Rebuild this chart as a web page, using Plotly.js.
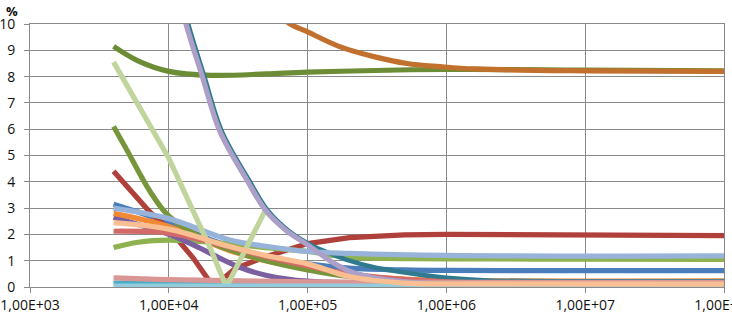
<!DOCTYPE html>
<html>
<head>
<meta charset="utf-8">
<script src="https://cdn.plot.ly/plotly-3.0.1.min.js"></script>
<style>html,body{margin:0;padding:0;background:#fff;}#chart{width:732px;height:316px;}</style>
</head>
<body>
<div id="chart"></div>
<script>
// x tick values and labels
const tickVals = [1e3, 1e4, 1e5, 1e6, 1e7, 1e8];
const tickText = ["1,00E+03", "1,00E+04", "1,00E+05", "1,00E+06", "1,00E+07", "1,00E+08"];

// series data (log x, y in %)
const blueX = [4000, 6000, 1e4, 2e4, 5e4, 1e5, 2e5, 5e5, 1e6, 1e7, 1e8];
const blueY = [3.15, 2.85, 2.45, 1.8, 1.15, 0.88, 0.72, 0.65, 0.63, 0.62, 0.62];

const redX = [4000, 7300, 1e4, 1.5e4, 2.1e4, 3e4, 5e4, 1e5, 2e5, 5e5, 1e6, 1e7, 1e8];
const redY = [4.4, 2.85, 2.2, 1.1, 0, 0.7, 1.15, 1.65, 1.88, 1.98, 2.0, 1.98, 1.95];

const greenX = [4000, 6000, 1e4, 2e4, 5e4, 1e5, 2e5, 1e6, 1e7, 1e8];
const greenY = [1.5, 1.7, 1.78, 1.7, 1.5, 1.35, 1.13, 1.07, 1.06, 1.05];

const purpleX = [4000, 1e4, 1.5e4, 3.2e4, 5e4, 1e5, 1e6, 1e8];
const purpleY = [2.65, 2.0, 1.6, 0.76, 0.45, 0.22, 0.12, 0.1];

const aquaX = [4000, 1e5, 1e8];
const aquaY = [0.15, 0.12, 0.1];

const orangeX = [4000, 1e4, 2.7e4, 5e4, 1e5, 2e5, 5e5, 1e6, 1e8];
const orangeY = [2.8, 2.3, 1.4, 1.0, 0.7, 0.45, 0.3, 0.25, 0.23];

const darkGreenX = [4000, 6000, 1e4, 2e4, 5e4, 1e5, 1e6, 1e7, 1e8];
const darkGreenY = [9.15, 8.6, 8.2, 8.05, 8.1, 8.17, 8.27, 8.25, 8.22];

const oliveX = [4000, 5000, 7300, 1e4, 2e4, 3e4, 5e4, 1e5, 2e5, 5e5, 1e6, 1e8];
const oliveY = [6.1, 5.2, 3.65, 2.7, 1.7, 1.35, 1.0, 0.65, 0.4, 0.25, 0.2, 0.18];

const tealX = [1.04e4, 1.38e4, 1.79e4, 2.42e4, 3.78e4, 5.18e4, 7.25e4, 1.04e5, 1.5e5, 2e5, 3e5, 5e5, 1e6, 2e6, 1e7, 1e8];
const tealY = [12.6, 10, 8.06, 5.9, 4.07, 2.9, 2.15, 1.62, 1.25, 1.0, 0.75, 0.55, 0.35, 0.25, 0.22, 0.22];

const brownX = [5e4, 7.5e4, 1e5, 1.7e5, 3e5, 5.2e5, 9e5, 1.6e6, 1e7, 1e8];
const brownY = [10.8, 10, 9.7, 9.14, 8.76, 8.5, 8.38, 8.29, 8.22, 8.2];

const lightBlueX = [4000, 1e4, 2.7e4, 5e4, 1e5, 2e5, 1e6, 1e8];
const lightBlueY = [3.0, 2.6, 1.8, 1.55, 1.35, 1.28, 1.2, 1.18];

const salmonX = [4000, 1e4, 2e4, 5e4, 1e5, 2e5, 1e6, 1e8];
const salmonY = [2.12, 2.05, 1.7, 1.15, 0.8, 0.5, 0.2, 0.15];

const pinkX = [4000, 1e4, 1e5, 1e6, 1e8];
const pinkY = [0.35, 0.28, 0.2, 0.18, 0.18];

const lightGreenX = [4000, 1e4, 2e4, 2.6e4, 5e4];
const lightGreenY = [8.55, 4.9, 1.45, 0, 2.95];

const lavenderX = [1e4, 1.33e4, 1.73e4, 2.34e4, 3.65e4, 5e4, 7e4, 1e5, 1.5e5, 2e5, 3e5, 5e5, 1e6, 1e7, 1e8];
const lavenderY = [12.6, 10, 8.06, 5.9, 4.07, 2.9, 2.15, 1.6, 0.95, 0.6, 0.35, 0.2, 0.12, 0.1, 0.1];

const lightAquaX = [4000, 1e8];
const lightAquaY = [0.03, 0.03];

const peachX = [4000, 1e4, 2.7e4, 5e4, 1e5, 2e5, 5e5, 1e6, 1e8];
const peachY = [2.45, 2.2, 1.55, 1.2, 0.88, 0.4, 0.15, 0.12, 0.11];

const W = 5.2;
function tr(x, y, color, shape, w) {
  return {x: x, y: y, type: 'scatter', mode: 'lines',
    line: {color: color, width: w || W, shape: shape || 'spline', smoothing: 1},
    hoverinfo: 'skip', showlegend: false};
}

const data = [
  tr(blueX, blueY, '#4A7EBB'),
  tr(redX, redY, '#B0403C', 'linear'),
  tr(greenX, greenY, '#8DB24F'),
  tr(purpleX, purpleY, '#7B5FA0'),
  tr(aquaX, aquaY, '#4BACC6'),
  tr(orangeX, orangeY, '#F28A35'),
  tr(darkGreenX, darkGreenY, '#6C8C35'),
  tr(oliveX, oliveY, '#77963C'),
  tr(tealX, tealY, '#2F7A8E', 'spline', 4.5),
  tr(brownX, brownY, '#C2702D'),
  tr(lightBlueX, lightBlueY, '#97B3DA'),
  tr(salmonX, salmonY, '#D46A68'),
  tr(pinkX, pinkY, '#D99694'),
  tr(lightGreenX, lightGreenY, '#BFD59C', 'linear'),
  tr(lavenderX, lavenderY, '#ADA0C8'),
  tr(lightAquaX, lightAquaY, '#93CDDD'),
  tr(peachX, peachY, '#F9BE92')
];

const grid = '#8A8A8A';
const layout = {
  width: 732, height: 316,
  margin: {l: 30, r: 8, t: 24, b: 29},
  paper_bgcolor: '#fff', plot_bgcolor: '#fff',
  font: {family: 'Open Sans, Liberation Sans, sans-serif', size: 14, color: '#111'},
  xaxis: {
    type: 'log', range: [3, 8],
    tickvals: tickVals, ticktext: tickText,
    showgrid: true, gridcolor: grid, gridwidth: 1,
    showline: true, linecolor: grid, linewidth: 1, mirror: true,
    ticks: 'outside', ticklen: 5, tickcolor: grid,
    zeroline: false, automargin: false, ticklabeloverflow: 'allow',
    tickfont: {size: 14}
  },
  yaxis: {
    range: [0, 10], dtick: 1, tick0: 0,
    showgrid: true, gridcolor: grid, gridwidth: 1,
    showline: true, linecolor: grid, linewidth: 1, mirror: true,
    ticks: 'outside', ticklen: 5, tickcolor: grid,
    zeroline: false, automargin: false, ticklabelstandoff: 6,
    tickfont: {size: 14}
  },
  annotations: [{
    text: '<b>%</b>', xref: 'paper', yref: 'paper', x: -0.038, y: 1.05,
    xanchor: 'left', yanchor: 'middle', showarrow: false,
    font: {size: 13, color: '#111'}
  }]
};

Plotly.newPlot('chart', data, layout, {staticPlot: true, displayModeBar: false});
</script>
</body>
</html>
